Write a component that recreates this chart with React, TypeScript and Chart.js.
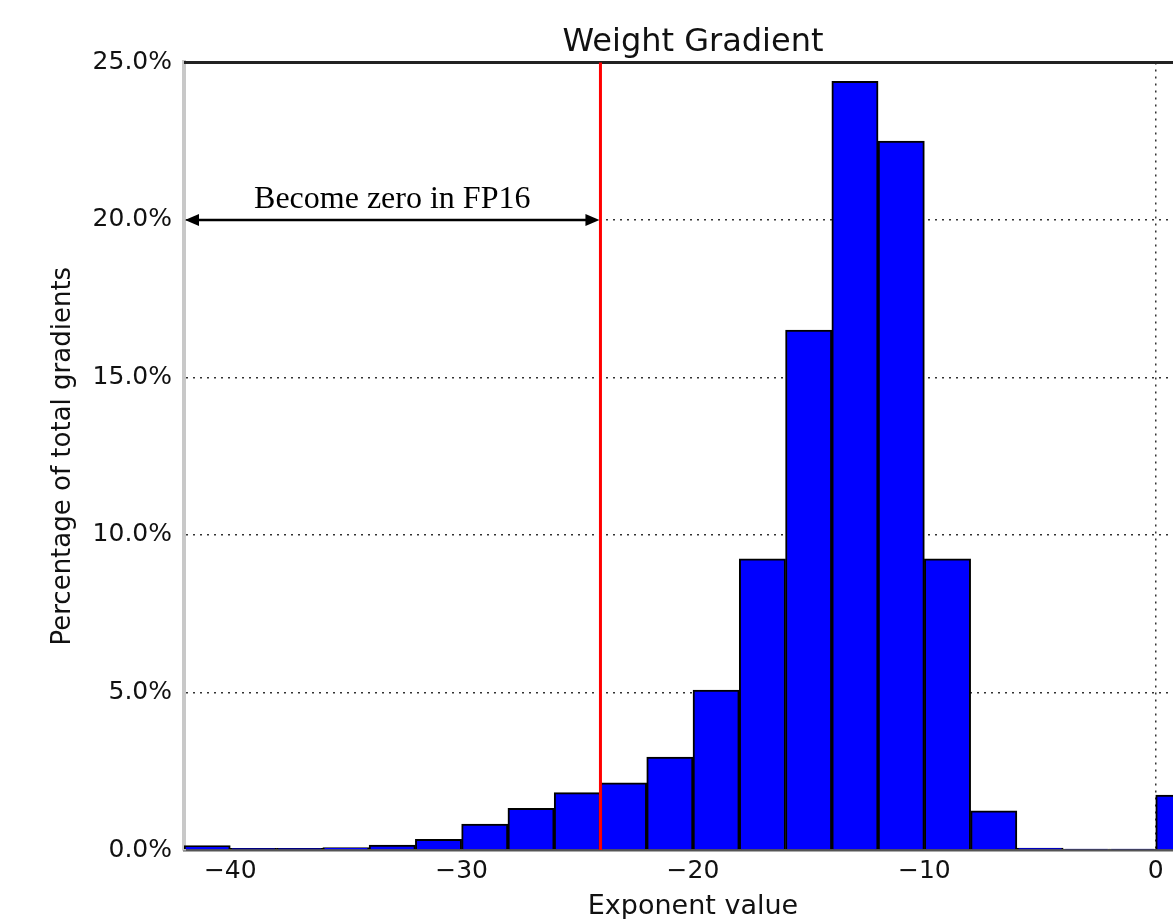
import React, { useEffect, useRef } from "react";
import { Chart, registerables } from "chart.js";

Chart.register(...registerables);

// Histogram bins (width 2) — bin centers on the exponent axis
const binCenters = [-41, -39, -37, -35, -33, -31, -29, -27, -25, -23, -21, -19, -17, -15, -13, -11, -9, -7, -5, -3, -1, 1];
// Percentage of total gradients per bin
const binPercents = [0.14, 0.05, 0.05, 0.08, 0.16, 0.34, 0.82, 1.32, 1.82, 2.13, 2.95, 5.08, 9.24, 16.5, 24.4, 22.5, 9.24, 1.24, 0.06, 0.03, 0.03, 1.74];

const xTickValues = [-40, -30, -20, -10, 0];
const yTickValues = [0, 5, 10, 15, 20, 25];

const xMin = -42;
const xMax = 2;
const yMin = 0;
const yMax = 25;

const zeroThreshold = -24; // FP16 underflow threshold (red line)
const arrowLevel = 20; // arrow height in %
const annotationText = "Become zero in FP16";
const chartTitle = "Weight Gradient";
const xTitle = "Exponent value";
const yTitle = "Percentage of total gradients";

const SANS = "'DejaVu Sans', sans-serif";

const overlayPlugin = {
  id: "overlay",
  afterDatasetsDraw(chart: any) {
    const { ctx, chartArea, scales } = chart;
    const x = scales.x;
    const y = scales.y;
    ctx.save();
    // top frame line
    ctx.strokeStyle = "#222";
    ctx.lineWidth = 3;
    ctx.beginPath();
    ctx.moveTo(chartArea.left, chartArea.top);
    ctx.lineTo(chartArea.right, chartArea.top);
    ctx.stroke();

    // red threshold line
    const xr = x.getPixelForValue(zeroThreshold);
    ctx.strokeStyle = "#ff0000";
    ctx.lineWidth = 3;
    ctx.beginPath();
    ctx.moveTo(xr, chartArea.top);
    ctx.lineTo(xr, chartArea.bottom);
    ctx.stroke();

    // double-headed arrow
    const xl = x.getPixelForValue(xMin);
    const ya = y.getPixelForValue(arrowLevel);
    const head = 14;
    const hw = 6;
    ctx.strokeStyle = "#000";
    ctx.fillStyle = "#000";
    ctx.lineWidth = 2.5;
    ctx.beginPath();
    ctx.moveTo(xl + head - 2, ya);
    ctx.lineTo(xr - head + 2, ya);
    ctx.stroke();
    ctx.beginPath();
    ctx.moveTo(xl + 1, ya);
    ctx.lineTo(xl + 1 + head, ya - hw);
    ctx.lineTo(xl + 1 + head, ya + hw);
    ctx.closePath();
    ctx.fill();
    ctx.beginPath();
    ctx.moveTo(xr - 1, ya);
    ctx.lineTo(xr - 1 - head, ya - hw);
    ctx.lineTo(xr - 1 - head, ya + hw);
    ctx.closePath();
    ctx.fill();

    // annotation text
    ctx.font = "32px 'Liberation Serif', serif";
    ctx.textAlign = "center";
    ctx.textBaseline = "alphabetic";
    ctx.fillText(annotationText, (xl + xr) / 2, ya - 12);
    ctx.restore();
  },
};

export default function App() {
  const ref = useRef<HTMLCanvasElement>(null);

  useEffect(() => {
    const canvas = ref.current!;
    const gridColorFor = (v: number, keep: number[]) => (keep.includes(v) ? "#333" : "rgba(0,0,0,0)");
    const chart = new Chart(canvas, {
      type: "bar",
      data: {
        datasets: [
          {
            data: binCenters.map((c, i) => ({ x: c, y: binPercents[i] })),
            backgroundColor: "#0000ff",
            borderColor: "#000000",
            borderWidth: 2,
            barPercentage: 1,
            categoryPercentage: 1,
          },
        ],
      },
      options: {
        responsive: false,
        devicePixelRatio: 1,
        animation: false,
        layout: { padding: { left: 0, right: 8, top: 0, bottom: 0 } },
        plugins: {
          legend: { display: false },
          tooltip: { enabled: false },
          title: {
            display: true,
            text: chartTitle,
            fullSize: false,
            color: "#111",
            font: { family: SANS, size: 32, weight: "normal" },
            padding: { top: 23, bottom: 1 },
          },
        },
        scales: {
          x: {
            type: "linear",
            min: xMin,
            max: xMax,
            offset: false,
            afterBuildTicks: (scale: any) => {
              scale.ticks = xTickValues.map((v) => ({ value: v }));
            },
            afterFit: (scale: any) => {
              scale.height = 85;
            },
            ticks: {
              color: "#111",
              font: { family: SANS, size: 25 },
              padding: 6,
              maxRotation: 0,
              autoSkip: false,
              callback: (v: any) => (Number(v) < 0 ? "\u2212" + Math.abs(Number(v)) : String(v)),
            },
            grid: {
              offset: false,
              drawTicks: false,
              color: (ctx: any) => gridColorFor(ctx.tick ? ctx.tick.value : NaN, [0]),
              lineWidth: 1.5,
            },
            border: { display: true, color: "#555", width: 2.5, dash: [2, 5] },
            title: {
              display: true,
              text: xTitle,
              color: "#111",
              font: { family: SANS, size: 27 },
              padding: { top: 0, bottom: 12 },
            },
          },
          y: {
            type: "linear",
            min: yMin,
            max: yMax,
            afterBuildTicks: (scale: any) => {
              scale.ticks = yTickValues.map((v) => ({ value: v }));
            },
            afterFit: (scale: any) => {
              scale.width = 184;
            },
            ticks: {
              color: "#111",
              font: { family: SANS, size: 25 },
              padding: 12,
              callback: (v: any) => Number(v).toFixed(1) + "%",
            },
            grid: {
              drawTicks: false,
              color: (ctx: any) => gridColorFor(ctx.tick ? ctx.tick.value : NaN, [5, 10, 15, 20]),
              lineWidth: 1.5,
            },
            border: { display: true, color: "#c8c8c8", width: 4, dash: [2, 5] },
            title: {
              display: true,
              text: yTitle,
              color: "#111",
              font: { family: SANS, size: 26 },
              padding: { top: 48, bottom: 0 },
            },
          },
        },
      },
      plugins: [overlayPlugin],
    } as any);
    return () => chart.destroy();
  }, []);

  return (
    <div
      style={{
        position: "fixed",
        left: 0,
        top: 0,
        width: 1173,
        height: 919,
        overflow: "hidden",
        background: "#fff",
      }}
    >
      <canvas ref={ref} width={1210} height={935} style={{ width: "1210px", height: "935px", display: "block" }} />
    </div>
  );
}
